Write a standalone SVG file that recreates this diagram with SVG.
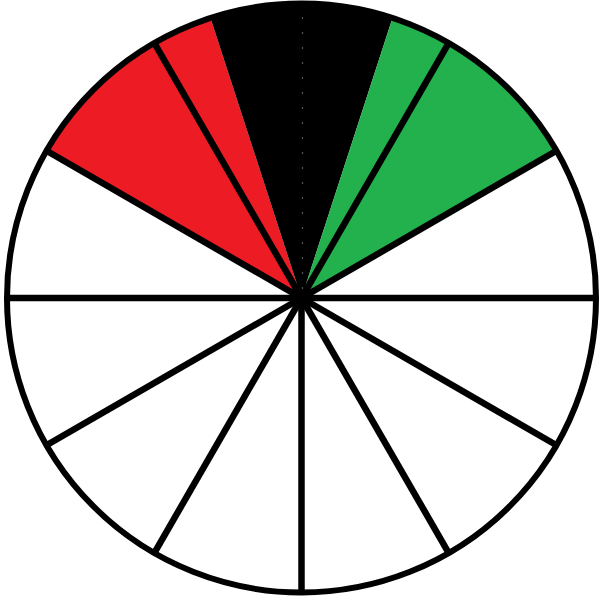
<svg xmlns="http://www.w3.org/2000/svg" width="600" height="600" viewBox="0 0 600 600">
  <style>
    .spoke { stroke: #000; stroke-width: 6.5; stroke-linecap: butt; fill: none; }
    .rim { stroke: #000; stroke-width: 6; fill: none; }
    .dotline { stroke: #a8a8a8; stroke-width: 1.2; stroke-dasharray: 1.2 13.8; fill: none; }
  </style>
  <rect width="600" height="600" fill="#fff"/>
  <g id="sectors">
    <path id="red" d="M301.5,298 L46.46,150.75 A294.5,294.5 0 0 1 210.49,17.91 Z" fill="#ED1C24"/>
    <path id="black" d="M301.5,298 L210.49,17.91 A294.5,294.5 0 0 1 392.51,17.91 Z" fill="#000"/>
    <path id="green" d="M301.5,298 L392.51,17.91 A294.5,294.5 0 0 1 556.54,150.75 Z" fill="#22B14C"/>
  </g>
  <g id="connectors">
    <line class="spoke" x1="7" y1="298" x2="596" y2="298"/>
    <line class="spoke" x1="301.5" y1="298" x2="301.5" y2="592.5"/>
    <line class="spoke" x1="301.5" y1="298" x2="46.46" y2="150.75"/>
    <line class="spoke" x1="301.5" y1="298" x2="154.25" y2="42.96"/>
    <line class="spoke" x1="301.5" y1="298" x2="448.75" y2="42.96"/>
    <line class="spoke" x1="301.5" y1="298" x2="556.54" y2="150.75"/>
    <line class="spoke" x1="301.5" y1="298" x2="46.46" y2="445.25"/>
    <line class="spoke" x1="301.5" y1="298" x2="154.25" y2="553.04"/>
    <line class="spoke" x1="301.5" y1="298" x2="448.75" y2="553.04"/>
    <line class="spoke" x1="301.5" y1="298" x2="556.54" y2="445.25"/>
    <line class="dotline" x1="302.5" y1="2.4" x2="302.5" y2="290"/>
  </g>
  <g id="rim">
    <circle class="rim" cx="301.5" cy="298" r="294.5"/>
  </g>
</svg>
